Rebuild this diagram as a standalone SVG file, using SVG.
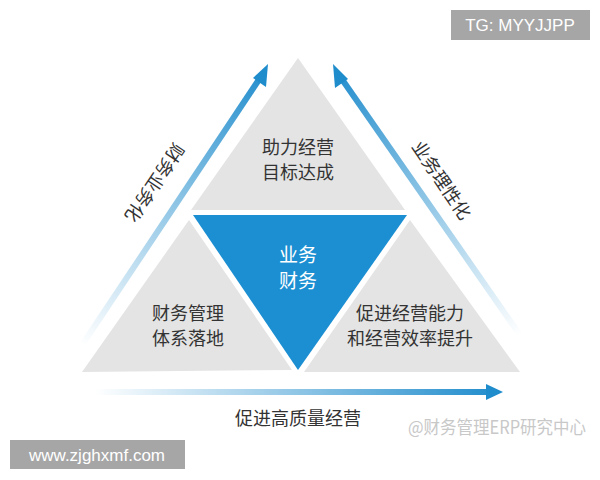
<svg xmlns="http://www.w3.org/2000/svg" width="600" height="480" viewBox="0 0 600 480">
<style>
.t{font-family:"Noto Sans CJK SC","Noto Sans",sans-serif;fill:#333;font-size:18px;text-anchor:middle}
.w{fill:#fff;font-size:19px}
.tri{fill:#e4e4e4}
</style>
<defs>
<linearGradient id="gl" x1="82" y1="345" x2="268" y2="65" gradientUnits="userSpaceOnUse"><stop offset="0" stop-color="#1f8ccc" stop-opacity="0"/><stop offset="1" stop-color="#1f8ccc"/></linearGradient>
<linearGradient id="gr" x1="520" y1="335" x2="333" y2="65" gradientUnits="userSpaceOnUse"><stop offset="0" stop-color="#1f8ccc" stop-opacity="0"/><stop offset="1" stop-color="#1f8ccc"/></linearGradient>
<linearGradient id="gb" x1="95" y1="0" x2="500" y2="0" gradientUnits="userSpaceOnUse"><stop offset="0" stop-color="#1f8ccc" stop-opacity="0"/><stop offset="1" stop-color="#1f8ccc"/></linearGradient>
</defs>
<rect width="600" height="480" fill="#fff"/>
<g id="connectors">
<path d="M82 345 L262 75" stroke="url(#gl)" stroke-width="6"/>
<polygon points="268,64 266,87 253,78" fill="#1f8ccc"/>
<path d="M520 335 L339 75" stroke="url(#gr)" stroke-width="6"/>
<polygon points="333,64 348,79 335,88" fill="#1f8ccc"/>
<path d="M95 392 L488 392" stroke="url(#gb)" stroke-width="6"/>
<polygon points="503,392 486,384 486,400" fill="#1f8ccc"/>
</g>
<g id="top"><polygon class="tri" points="298,58 405,210 191,210"/>
<text class="t" x="298" y="154">助力经营</text><text class="t" x="298" y="179">目标达成</text></g>
<g id="center"><polygon fill="#1b8fd2" points="193,215 407,215 298,370"/>
<text class="t w" x="298" y="262">业务</text><text class="t w" x="298" y="288">财务</text></g>
<g id="left"><polygon class="tri" points="189,220 292,370 82,372 82,372"/>
<text class="t" x="188" y="320">财务管理</text><text class="t" x="188" y="345">体系落地</text></g>
<g id="right"><polygon class="tri" points="410,220 520,372 304,372"/>
<text class="t" x="410" y="320">促进经营能力</text><text class="t" x="410" y="345">和经营效率提升</text></g>
<g id="labels">
<text class="t" transform="translate(155,183) rotate(124)" y="7" font-size="20">财务业务化</text>
<text class="t" transform="translate(442,180) rotate(56)" y="7" font-size="20">业务理性化</text>
<text class="t" x="298" y="425" font-size="20">促进高质量经营</text>
<text class="t" x="408" y="434" font-size="11" textLength="178" lengthAdjust="spacingAndGlyphs" style="fill:#c8c8c8;text-anchor:start">@财务管理ERP研究中心</text>
</g>
<g id="tg"><rect x="451" y="10" width="139" height="30" fill="#a6a6a6"/>
<text x="520" y="31" font-family="Liberation Sans,sans-serif" font-size="17" fill="#fff" text-anchor="middle">TG: MYYJJPP</text></g>
<g id="www"><rect x="10" y="440" width="175" height="29" fill="#a6a6a6"/>
<text x="97" y="461" font-family="Liberation Sans,sans-serif" font-size="17" fill="#fff" text-anchor="middle">www.zjghxmf.com</text></g>
</svg>
